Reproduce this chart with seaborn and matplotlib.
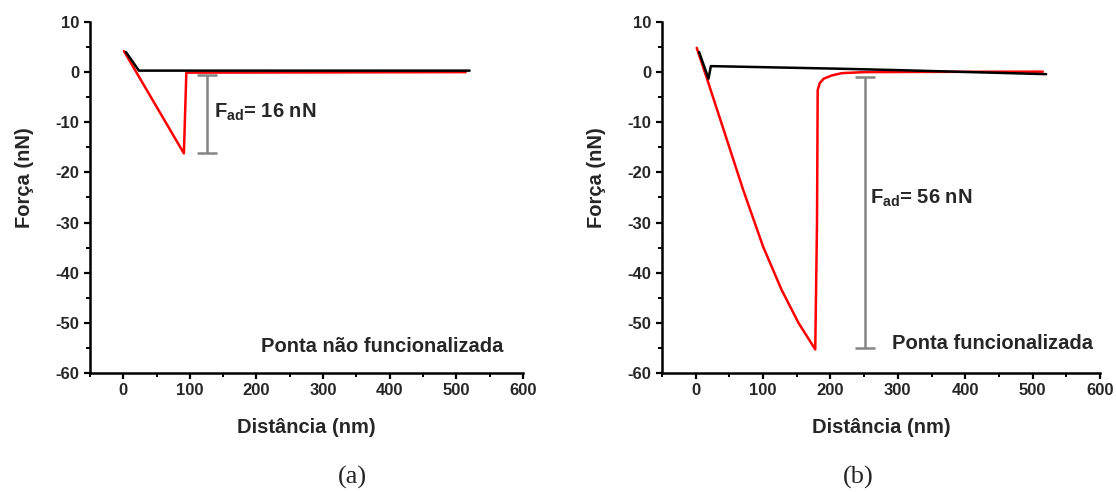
import numpy as np
import pandas as pd
import matplotlib
matplotlib.use("Agg")
import matplotlib.pyplot as plt
from matplotlib.ticker import MultipleLocator
import seaborn as sns

# ---- data ----
# panel (a): non-functionalised tip
approach_a_x = [4, 23.5, 520]
approach_a_y = [4.0, 0.3, 0.3]
retract_a_x = [1, 91, 94.7, 514]
retract_a_y = [4.2, -16.2, -0.1, 0.0]
fad_a_x = 126
fad_a_top = -0.5
fad_a_bottom = -16.1
fad_a_label = "16 nN"
tip_a_label = "Ponta não funcionalizada"

# panel (b): functionalised tip
approach_b_x = [5, 19, 22.5, 217, 300, 520]
approach_b_y = [4.0, -1.3, 1.2, 0.67, 0.4, -0.4]
retract_b_x = [1.5, 16, 40, 70, 100, 127.4, 152.5, 177.4, 180, 181, 184, 190, 202, 217, 250, 350, 515]
retract_b_y = [4.85, -1.0, -10.9, -23.3, -34.8, -43.4, -50.0, -55.3, -30.0, -3.6, -2.2, -1.3, -0.66, -0.2, 0.0, 0.05, 0.1]
fad_b_x = 251
fad_b_top = -1.0
fad_b_bottom = -55.1
fad_b_label = "56 nN"
tip_b_label = "Ponta funcionalizada"

panel_labels = ["(a)", "(b)"]
xlabel = "Distância (nm)"
ylabel = "Força (nN)"

# ---- style ----
sns.set_theme(style="ticks")
plt.rcParams["font.family"] = ["Liberation Sans", "DejaVu Sans"]
plt.rcParams["font.weight"] = "bold"
plt.rcParams["axes.unicode_minus"] = False
plt.rcParams["mathtext.fontset"] = "custom"
plt.rcParams["mathtext.rm"] = "Liberation Sans:bold"
plt.rcParams["mathtext.it"] = "Liberation Sans:bold"
plt.rcParams["mathtext.bf"] = "Liberation Sans:bold"

fig = plt.figure(figsize=(11.16, 4.92), dpi=100)
ax_a = fig.add_axes([0.0806, 0.2419, 0.388, 0.7134])
ax_b = fig.add_axes([0.5932, 0.2419, 0.3925, 0.7134])

panels = [
    (ax_a, approach_a_x, approach_a_y, retract_a_x, retract_a_y,
     fad_a_x, fad_a_top, fad_a_bottom, fad_a_label, (136, -8.1), tip_a_label, (207, -54.7)),
    (ax_b, approach_b_x, approach_b_y, retract_b_x, retract_b_y,
     fad_b_x, fad_b_top, fad_b_bottom, fad_b_label, (259, -25.2), tip_b_label, (291, -54.1)),
]

for (ax, ax_x, ax_y, rx, ry, fx, ftop, fbot, flab, fpos, tlab, tpos) in panels:
    sns.lineplot(x=rx, y=ry, sort=False, estimator=None, color="#ff0000",
                 linewidth=1.8, ax=ax)
    sns.lineplot(x=ax_x, y=ax_y, sort=False, estimator=None, color="black",
                 linewidth=1.8, ax=ax)
    # adhesion-force bar
    ax.errorbar([fx], [(ftop + fbot) / 2], yerr=[[(ftop - fbot) / 2], [(ftop - fbot) / 2]],
                fmt="none", ecolor="#858585", elinewidth=1.8, capsize=7.5, capthick=1.8)
    ax.text(fpos[0], fpos[1], r"F$_{\mathrm{ad}}$= " + flab, fontsize=14.5,
            fontweight="bold", ha="left", va="center")
    ax.text(tpos[0], tpos[1], tlab, fontsize=14.5, fontweight="bold",
            ha="left", va="center")

    ax.set_xlim(-50, 600)
    ax.set_ylim(-60, 10)
    ax.xaxis.set_major_locator(MultipleLocator(100))
    ax.xaxis.set_minor_locator(MultipleLocator(50))
    ax.yaxis.set_major_locator(MultipleLocator(10))
    ax.yaxis.set_minor_locator(MultipleLocator(5))
    sns.despine(ax=ax)
    for s in ["left", "bottom"]:
        ax.spines[s].set_linewidth(1.8)
        ax.spines[s].set_color("black")
    ax.tick_params(which="major", direction="out", length=4.5, width=1.6,
                   labelsize=12, color="black", pad=3)
    ax.tick_params(which="minor", direction="out", length=3, width=1.4, color="black")
    for lbl in ax.get_xticklabels() + ax.get_yticklabels():
        lbl.set_fontweight("bold")
    ax.set_xlabel(xlabel, fontsize=14.5, fontweight="bold")
    ax.set_ylabel(ylabel, fontsize=14.5, fontweight="bold")
    ax.xaxis.label.set_va("center")
    ax.yaxis.label.set_va("center")
    ax.xaxis.set_label_coords(0.5, -0.154)
    ax.yaxis.set_label_coords(-0.15, 0.556)
    ax.grid(False)
    ax.set_facecolor("white")

fig.text(352 / 1116, 1 - 477 / 492, panel_labels[0], fontsize=19,
         family=["Liberation Serif", "DejaVu Serif"], fontweight="normal",
         ha="center", va="center")
fig.text(858 / 1116, 1 - 477 / 492, panel_labels[1], fontsize=19,
         family=["Liberation Serif", "DejaVu Serif"], fontweight="normal",
         ha="center", va="center")

fig.savefig("out.png", dpi=100, facecolor="white")
